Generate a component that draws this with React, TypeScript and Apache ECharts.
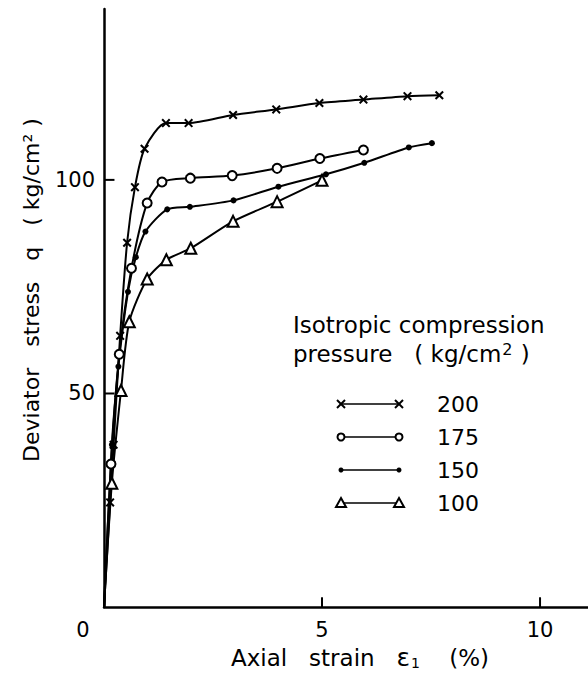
import React, { useEffect, useRef } from "react";
import * as echarts from "echarts";

const xTickValues = [5, 10];
const xLabelValues = [0, 5, 10];
const yTickValues = [50, 100];
const yLabelValues = [50, 100];

const pressures = ["200", "175", "150", "100"];

const s200: [number, number][] = [
  [0, 0], [0.14, 24.5], [0.22, 38], [0.37, 63.5], [0.53, 85.3], [0.71, 98.3], [0.93, 107.3],
  [1.42, 113.3], [1.94, 113.3], [2.96, 115.2], [3.95, 116.5], [4.94, 118.0], [5.95, 118.8],
  [6.96, 119.6], [7.69, 119.8],
];
const s175: [number, number][] = [
  [0, 0], [0.16, 33.5], [0.35, 59.2], [0.63, 79.3], [0.99, 94.6], [1.33, 99.5], [1.98, 100.4],
  [2.94, 101.0], [3.97, 102.7], [4.95, 105.0], [5.95, 107.0],
];
const s150: [number, number][] = [
  [0, 0], [0.18, 38], [0.33, 56.3], [0.55, 73.8], [0.73, 81.9], [0.95, 87.9], [1.45, 93.1],
  [1.97, 93.7], [2.97, 95.2], [4.0, 98.4], [5.09, 101.3], [5.97, 104.0], [6.99, 107.6], [7.52, 108.6],
];
const s100: [number, number][] = [
  [0, 0], [0.18, 29], [0.39, 50.7], [0.58, 66.8], [0.99, 76.8], [1.43, 81.3], [1.99, 84.0],
  [2.96, 90.3], [3.97, 94.9], [5.0, 99.9],
];

const FONT = "DejaVu Sans";
const X_SYMBOL =
  "path://M0,1.6 L1.6,0 L5,3.4 L8.4,0 L10,1.6 L6.6,5 L10,8.4 L8.4,10 L5,6.6 L1.6,10 L0,8.4 L3.4,5 Z";

// hide the marker at the origin (curves start from 0,0 without a symbol)
const toData = (arr: [number, number][]) =>
  arr.map((p) => (p[0] === 0 && p[1] === 0 ? { value: p, symbol: "none" } : { value: p }));

export default function App() {
  const ref = useRef<HTMLDivElement>(null);
  useEffect(() => {
    if (!ref.current) return;
    const chart = echarts.init(ref.current, undefined, { renderer: "svg" });
    const lineStyle = { color: "#000", width: 2 };
    const base = {
      type: "line" as const,
      smooth: 0.25,
      lineStyle,
      z: 3,
    };
    const legendRows = [404, 437, 470, 503];
    const lx0 = 341;
    const lx1 = 399;
    const legendGraphics: any[] = [
      {
        type: "text", left: 293, top: 313,
        style: { text: "Isotropic compression", font: `23px '${FONT}'`, fill: "#000" },
      },
      {
        type: "text", left: 293, top: 341,
        style: {
          text: "pressure   ( kg/cm{sup|2} )",
          font: `23px '${FONT}'`, fill: "#000",
          rich: {
            sup: { fontSize: 16, fontFamily: FONT, fill: "#000", verticalAlign: "top", padding: [0, 1, 9, 1] },
          },
        },
      },
    ];
    legendRows.forEach((y, i) => {
      legendGraphics.push({
        type: "line",
        shape: { x1: lx0, y1: y, x2: lx1, y2: y },
        style: { stroke: "#000", lineWidth: 1.5 },
      });
      legendGraphics.push({
        type: "text", x: 437, y,
        style: {
          text: pressures[i], font: `22px '${FONT}'`, fill: "#000",
          textVerticalAlign: "middle", textAlign: "left",
        },
      });
      [lx0, lx1].forEach((cx) => {
        if (i === 0) {
          legendGraphics.push({
            type: "polyline",
            shape: { points: [[cx - 4, y - 4], [cx + 4, y + 4]] },
            style: { stroke: "#000", lineWidth: 2 },
          });
          legendGraphics.push({
            type: "polyline",
            shape: { points: [[cx + 4, y - 4], [cx - 4, y + 4]] },
            style: { stroke: "#000", lineWidth: 2 },
          });
        } else if (i === 1) {
          legendGraphics.push({
            type: "circle", shape: { cx, cy: y, r: 3.5 },
            style: { stroke: "#000", lineWidth: 2, fill: "#fff" },
          });
        } else if (i === 2) {
          legendGraphics.push({
            type: "circle", shape: { cx, cy: y, r: 2.5 },
            style: { fill: "#000" },
          });
        } else {
          legendGraphics.push({
            type: "polygon",
            shape: { points: [[cx, y - 5], [cx + 5, y + 4], [cx - 5, y + 4]] },
            style: { stroke: "#000", lineWidth: 2, fill: "#fff" },
          });
        }
      });
    });

    // short tick marks inside the plot, drawn through the axis scales
    const tickSeries: any[] = [
      ...yTickValues.map((v) => [[0, v], [0.24, v]]),
      ...xTickValues.map((v) => [[v, 0], [v, 2.3]]),
    ].map((d) => ({
      type: "line",
      data: d,
      symbol: "none",
      silent: true,
      lineStyle: { color: "#000", width: 2 },
      z: 4,
    }));

    chart.setOption({
      animation: false,
      backgroundColor: "#fff",
      textStyle: { fontFamily: FONT, color: "#000" },
      grid: { left: 104, top: 9, width: 486, height: 603.4, containLabel: false },
      xAxis: {
        type: "value",
        min: 0,
        max: 11.1,
        splitLine: { show: false },
        axisLine: { show: true, onZero: false, lineStyle: { color: "#000", width: 2.5 } },
        axisTick: { show: false },
        axisLabel: {
          customValues: xLabelValues,
          margin: 12,
          color: "#000",
          fontSize: 21,
          fontFamily: FONT,
          formatter: (v: number) => (v === 0 ? "{z|0}" : String(v)),
          rich: { z: { fontSize: 21, fontFamily: FONT, color: "#000", padding: [0, 42, 0, 0] } },
        },
        name: "Axial   strain   {e|ε}{s|1}    (%)",
        nameLocation: "middle",
        nameGap: 36,
        nameTextStyle: {
          fontSize: 23, fontFamily: FONT, color: "#000", padding: [0, 0, 0, 28],
          rich: {
            e: { fontSize: 25, fontFamily: FONT, color: "#000" },
            s: { fontSize: 14, fontFamily: FONT, color: "#000", padding: [10, 0, 0, 1] },
          },
        },
      },
      yAxis: {
        type: "value",
        min: 0,
        max: 140,
        splitLine: { show: false },
        axisLine: { show: true, onZero: false, lineStyle: { color: "#000", width: 2.5 } },
        axisTick: { show: false },
        axisLabel: {
          customValues: yLabelValues,
          margin: 9,
          color: "#000",
          fontSize: 21,
          fontFamily: FONT,
        },
        name: "Deviator   stress   q   ( kg/cm² )",
        nameLocation: "middle",
        nameGap: 62,
        nameRotate: 90,
        nameTextStyle: { fontSize: 22, fontFamily: FONT, color: "#000", padding: [0, 0, 0, 36] },
      },
      graphic: legendGraphics,
      series: [
        {
          ...base, name: "200", data: toData(s200),
          symbol: X_SYMBOL, symbolSize: 9, showAllSymbol: true,
          itemStyle: { color: "#000" },
        },
        {
          ...base, name: "175", data: toData(s175),
          symbol: "emptyCircle", symbolSize: 9,
          itemStyle: { color: "#000", borderWidth: 2 },
        },
        {
          ...base, name: "150", data: toData(s150),
          symbol: "circle", symbolSize: 6,
          itemStyle: { color: "#000" },
        },
        {
          ...base, name: "100", data: toData(s100),
          symbol: "emptyTriangle", symbolSize: 11,
          itemStyle: { color: "#000", borderWidth: 2 },
        },
        ...tickSeries,
      ],
    });
    return () => chart.dispose();
  }, []);
  return <div ref={ref} style={{ width: 588, height: 675, position: "absolute", left: 0, top: 0 }} />;
}
